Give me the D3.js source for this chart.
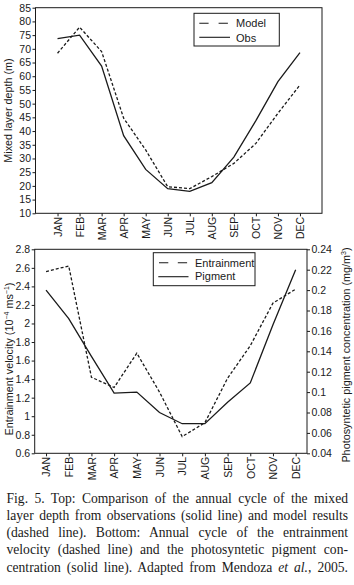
<!DOCTYPE html>
<html>
<head>
<meta charset="utf-8">
<script src="https://cdn.jsdelivr.net/npm/d3@7"></script>
<style>
  html, body { margin: 0; padding: 0; background: #fff; }
  #wrap { position: relative; width: 354px; height: 585px; overflow: hidden; }
  svg { position: absolute; left: 0; top: 0; }
  .cap { position: absolute; left: 6.5px; width: 341.5px; font-family: "Liberation Serif", "Times New Roman", serif;
         font-size: 13.6px; color: #1a1a1a; text-align: justify; text-align-last: justify; white-space: nowrap; line-height: 17px; }
</style>
</head>
<body>
<div id="wrap"></div>
<script>
// ---------- data ----------
const months = ["JAN","FEB","MAR","APR","MAY","JUN","JUL","AUG","SEP","OCT","NOV","DEC"];
const mldModel = [68.4, 77.9, 69, 44.7, 33.1, 19.7, 19, 23.4, 28.2, 35.5, 46.5, 56.8];
const mldObs   = [73.7, 75.0, 63.7, 38.3, 26, 19, 18, 21.2, 30.5, 43.8, 58, 68.6];
const mldTicks = [10,15,20,25,30,35,40,45,50,55,60,65,70,75,80,85];
const entrain  = [2.56, 2.62, 1.42, 1.31, 1.68, 1.26, 0.78, 0.93, 1.41, 1.76, 2.22, 2.37];
const pigment  = [0.200, 0.172, 0.135, 0.099, 0.100, 0.080, 0.069, 0.069, 0.090, 0.109, 0.166, 0.220];
const entrainTicks = [0.6,0.8,1,1.2,1.4,1.6,1.8,2,2.2,2.4,2.6,2.8];
const pigmentTicks = [0.04,0.06,0.08,0.1,0.12,0.14,0.16,0.18,0.2,0.22,0.24];
const captionLines = [
  "Fig. 5. Top: Comparison of the annual cycle of the mixed",
  "layer depth from observations (solid line) and model results",
  "(dashed line). Bottom: Annual cycle of the entrainment",
  "velocity (dashed line) and the photosyntetic pigment con-",
  "centration (solid line). Adapted from Mendoza <i>et al.</i>, 2005."
];

// ---------- drawing ----------
const wrap = d3.select("#wrap");
const svg = wrap.append("svg").attr("width", 354).attr("height", 585);
const ink = "#1a1a1a";
const sans = "'Liberation Sans', Arial, sans-serif";
const fmt = d3.format("~g");

function styleAxis(g) {
  g.select(".domain").remove();
  g.selectAll(".tick line").attr("stroke", ink).attr("stroke-width", 1);
  g.selectAll(".tick text").attr("fill", ink).style("font-family", sans).style("font-size", "10.5px");
}
function rotateMonths(g) {
  g.selectAll(".tick text")
    .attr("transform", "rotate(-90)")
    .attr("text-anchor", "end")
    .attr("x", -3.5).attr("y", 0).attr("dy", "0.36em");
}

// ===== Top chart =====
{
  const L = 35.5, R = 322, T = 7.7, B = 213.3;
  const x = d3.scalePoint().domain(months).range([L, R]).padding(1);
  const y = d3.scaleLinear().domain([10, 85]).range([B, T]);

  svg.append("g").attr("transform", `translate(${L},0)`)
    .call(d3.axisLeft(y).tickValues(mldTicks).tickSize(3).tickPadding(1.5).tickFormat(fmt))
    .call(styleAxis);
  svg.append("g").attr("transform", `translate(0,${B})`)
    .call(d3.axisBottom(x).tickSize(3).tickPadding(2))
    .call(styleAxis).call(rotateMonths);

  svg.append("rect").attr("x", L).attr("y", T).attr("width", R - L).attr("height", B - T)
    .attr("fill", "none").attr("stroke", ink).attr("stroke-width", 1);

  const line = d3.line().x((d, i) => x(months[i])).y(d => y(d));
  svg.append("path").datum(mldModel).attr("d", line).attr("fill", "none")
    .attr("stroke", ink).attr("stroke-width", 1.3).attr("stroke-dasharray", "3,2");
  svg.append("path").datum(mldObs).attr("d", line).attr("fill", "none")
    .attr("stroke", ink).attr("stroke-width", 1.3);

  svg.append("text").attr("transform", `translate(11.5,${(T + B) / 2}) rotate(-90)`)
    .attr("text-anchor", "middle").attr("fill", ink)
    .style("font-family", sans).style("font-size", "10.8px").text("Mixed layer depth (m)");

  // legend
  const lg = svg.append("g");
  lg.append("rect").attr("x", 194).attr("y", 13.3).attr("width", 85.3).attr("height", 32.7)
    .attr("fill", "#fff").attr("stroke", ink).attr("stroke-width", 1);
  lg.append("line").attr("x1", 199.3).attr("x2", 228.5).attr("y1", 23.3).attr("y2", 23.3)
    .attr("stroke", ink).attr("stroke-width", 1.1).attr("stroke-dasharray", "9.3,10");
  lg.append("line").attr("x1", 199.3).attr("x2", 230).attr("y1", 37.3).attr("y2", 37.3)
    .attr("stroke", ink).attr("stroke-width", 1.1);
  lg.append("text").attr("x", 236).attr("y", 27.4).attr("fill", ink)
    .style("font-family", sans).style("font-size", "11px").text("Model");
  lg.append("text").attr("x", 236).attr("y", 41.5).attr("fill", ink)
    .style("font-family", sans).style("font-size", "11px").text("Obs");
}

// ===== Bottom chart =====
{
  const L = 34.7, R = 307, T = 249.3, B = 453.3;
  const x = d3.scalePoint().domain(months).range([L, R]).padding(0.5);
  const yL = d3.scaleLinear().domain([0.6, 2.8]).range([B, T]);
  const yR = d3.scaleLinear().domain([0.04, 0.24]).range([B, T]);

  svg.append("g").attr("transform", `translate(${L},0)`)
    .call(d3.axisLeft(yL).tickValues(entrainTicks).tickSize(3).tickPadding(1.5).tickFormat(fmt))
    .call(styleAxis);
  svg.append("g").attr("transform", `translate(${R},0)`)
    .call(d3.axisRight(yR).tickValues(pigmentTicks).tickSize(3).tickPadding(1.5).tickFormat(fmt))
    .call(styleAxis);
  svg.append("g").attr("transform", `translate(0,${B})`)
    .call(d3.axisBottom(x).tickSize(3).tickPadding(2))
    .call(styleAxis).call(rotateMonths);

  svg.append("rect").attr("x", L).attr("y", T).attr("width", R - L).attr("height", B - T)
    .attr("fill", "none").attr("stroke", ink).attr("stroke-width", 1);

  svg.append("path").datum(entrain)
    .attr("d", d3.line().x((d, i) => x(months[i])).y(d => yL(d)))
    .attr("fill", "none").attr("stroke", ink).attr("stroke-width", 1.3).attr("stroke-dasharray", "3,2");
  svg.append("path").datum(pigment)
    .attr("d", d3.line().x((d, i) => x(months[i])).y(d => yR(d)))
    .attr("fill", "none").attr("stroke", ink).attr("stroke-width", 1.3);

  const yl = svg.append("text").attr("transform", `translate(12.5,359) rotate(-90)`)
    .attr("text-anchor", "middle").attr("fill", ink)
    .style("font-family", sans).style("font-size", "10.8px");
  yl.append("tspan").text("Entrainment velocity (10");
  yl.append("tspan").attr("dy", -3.5).style("font-size", "7px").text("−4");
  yl.append("tspan").attr("dy", 3.5).text(" ms");
  yl.append("tspan").attr("dy", -3.5).style("font-size", "7px").text("−1");
  yl.append("tspan").attr("dy", 3.5).text(")");

  const yr = svg.append("text").attr("transform", `translate(349.5,355) rotate(-90)`)
    .attr("text-anchor", "middle").attr("fill", ink)
    .style("font-family", sans).style("font-size", "10.8px");
  yr.append("tspan").text("Photosyntetic pigment concentration (mg/m");
  yr.append("tspan").attr("dy", -3.5).style("font-size", "7px").text("3");
  yr.append("tspan").attr("dy", 3.5).text(")");

  const lg = svg.append("g");
  lg.append("rect").attr("x", 153.3).attr("y", 252.7).attr("width", 101.7).attr("height", 33)
    .attr("fill", "#fff").attr("stroke", ink).attr("stroke-width", 1);
  lg.append("line").attr("x1", 159).attr("x2", 187.5).attr("y1", 262.7).attr("y2", 262.7)
    .attr("stroke", ink).attr("stroke-width", 1.1).attr("stroke-dasharray", "9.3,9.5");
  lg.append("line").attr("x1", 158.3).attr("x2", 188.5).attr("y1", 276.7).attr("y2", 276.7)
    .attr("stroke", ink).attr("stroke-width", 1.1);
  lg.append("text").attr("x", 195).attr("y", 266.5).attr("fill", ink)
    .style("font-family", sans).style("font-size", "11px").text("Entrainment");
  lg.append("text").attr("x", 195).attr("y", 280.3).attr("fill", ink)
    .style("font-family", sans).style("font-size", "11px").text("Pigment");
}

// ===== Caption =====
wrap.selectAll("div.cap").data(captionLines).enter().append("div")
  .attr("class", "cap")
  .style("top", (d, i) => (489.5 + i * 17.25) + "px")
  .html(d => d);
</script>
</body>
</html>
